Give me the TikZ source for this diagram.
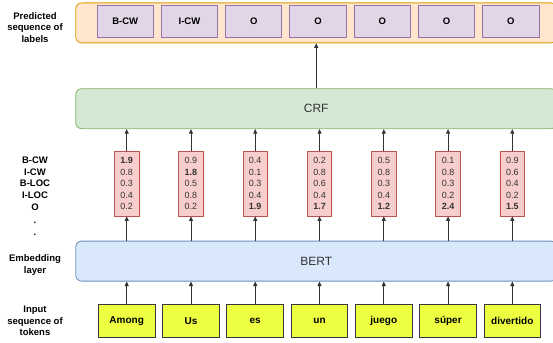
\documentclass[tikz,border=0pt]{standalone}
\usepackage{fontspec}
\setmainfont{Liberation Sans}
\usetikzlibrary{arrows.meta}
\definecolor{outfill}{HTML}{FFE6CC}
\definecolor{outdraw}{HTML}{D79B00}
\definecolor{tagfill}{HTML}{E1D5E7}
\definecolor{tagdraw}{HTML}{9673A6}
\definecolor{crffill}{HTML}{D5E8D4}
\definecolor{crfdraw}{HTML}{82B366}
\definecolor{scorefill}{HTML}{F8CECC}
\definecolor{scoredraw}{HTML}{B85450}
\definecolor{bertfill}{HTML}{DAE8FC}
\definecolor{bertdraw}{HTML}{6C8EBF}
\definecolor{tokfill}{HTML}{EEFF41}
\definecolor{tokdraw}{HTML}{36393D}
\definecolor{ink}{HTML}{333333}
\begin{document}
\begin{tikzpicture}[x=1pt, y=-1pt,
   layer/.style = {rounded corners=6pt, line width=0.8pt, minimum width=481pt, minimum height=40pt,
                   inner sep=0pt, anchor=north west, text=ink, font=\fontsize{12}{14}\selectfont},
   tag/.style   = {draw=tagdraw, fill=tagfill, line width=0.8pt, minimum width=56.3pt, minimum height=32pt,
                   inner sep=0pt, font=\fontsize{9.5}{11}\selectfont\bfseries},
   score/.style = {draw=scoredraw, fill=scorefill, line width=0.8pt, minimum width=24.5pt, minimum height=64.5pt,
                   inner sep=0pt, align=center, text=ink, font=\fontsize{9}{11.5}\selectfont},
   token/.style = {draw=tokdraw, fill=tokfill, line width=0.8pt, minimum width=56.7pt, minimum height=32.3pt,
                   inner sep=0pt, font=\fontsize{10}{12}\selectfont\bfseries},
   side/.style  = {align=center, inner sep=0pt, font=\fontsize{9.5}{11.7}\selectfont\bfseries},
   arr/.style   = {draw=ink, line width=0.8pt, -{Triangle[length=4.5pt, width=4pt]}}]
\useasboundingbox (0,0) rectangle (553,342);

% layers
\node[layer, draw=outdraw, fill=outfill] (out) at (75.3,2.5) {};
\node[layer, draw=crfdraw, fill=crffill] (crf) at (75.3,88.3) {CRF};
\node[layer, draw=bertdraw, fill=bertfill] (bert) at (75.3,240.7) {BERT};

% side labels
\node[side] (predlbl) at (35,27.5) {Predicted\\sequence of\\labels};
\node[side] (classlbl) at (35,196) {B-CW\\I-CW\\B-LOC\\I-LOC\\O\\[1.5pt].\\.};
\node[side] (emblbl) at (35,265.2) {Embedding\\layer};
\node[side] (inlbl) at (35,321) {Input\\sequence of\\tokens};

% one column per token
\foreach \tok/\lab/\vals [count=\i from 0] in {
      Among/B-CW/{\textbf{1.9}\\0.8\\0.3\\0.4\\0.2},
      Us/I-CW/{0.9\\\textbf{1.8}\\0.5\\0.8\\0.2},
      es/O/{0.4\\0.1\\0.3\\0.4\\\textbf{1.9}},
      un/O/{0.2\\0.8\\0.6\\0.4\\\textbf{1.7}},
      juego/O/{0.5\\0.8\\0.3\\0.4\\\textbf{1.2}},
      súper/O/{0.1\\0.8\\0.3\\0.2\\\textbf{2.4}},
      divertido/O/{0.9\\0.6\\0.4\\0.2\\\textbf{1.5}}}{
   \pgfmathsetmacro{\xc}{126.7+64.27*\i}
   \node[tag] (tag\i) at (\xc-1.5,21.7) {\lab};
   \node[score] (s\i) at (\xc,183.75) {\vals};
   \node[token] (t\i) at (\xc,320.85) {\tok};
   \draw[arr] (t\i) -- (t\i |- bert.south);
   \draw[arr] (s\i.south |- bert.north) -- (s\i.south);
   \draw[arr] (s\i) -- (s\i |- crf.south);
   }
\draw[arr] (crf.north) -- (crf.north |- out.south);

\end{tikzpicture}
\end{document}
